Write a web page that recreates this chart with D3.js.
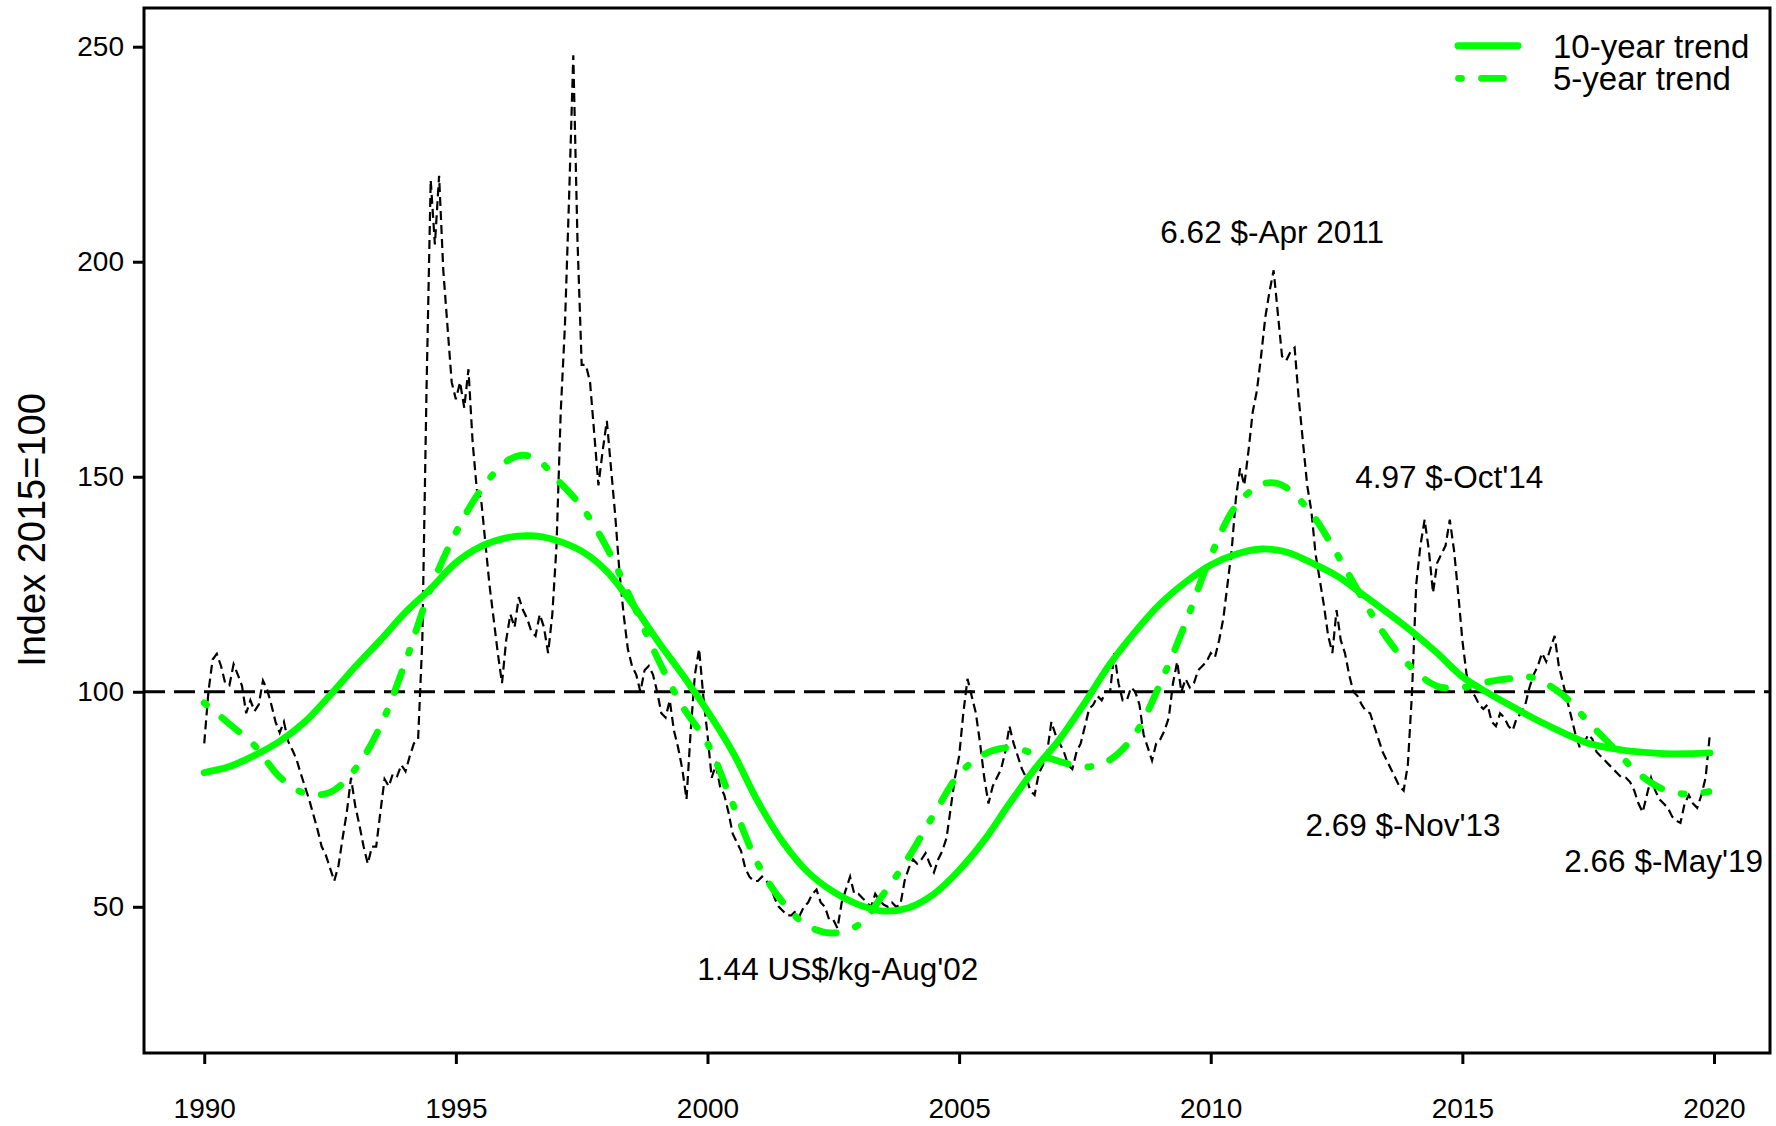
<!DOCTYPE html>
<html>
<head>
<meta charset="utf-8">
<script src="https://cdn.jsdelivr.net/npm/d3@7"></script>
<style>
	body { margin: 0; background: #ffffff; }
	svg { display: block; }
	text { font-family: "Liberation Sans", Arial, sans-serif; fill: #000000; }
</style>
</head>
<body>
<div></div>
<script>
// monthly price index, Jan 1990 .. Dec 2019 (2015=100)
var startYear = 1990;
var indexValues = [
	88, 100, 107.5, 108.8, 106, 102, 101.5, 106.4, 104, 101.4, 95, 98,
	95.5, 97, 102.6, 100.5, 97, 93, 90.5, 93, 88.5, 86.5, 84.3, 81,
	78, 75, 71.5, 68, 64, 62, 59, 56, 59.5, 66, 72, 80,
	73.5, 69, 64, 60, 64, 64, 72, 79.7, 78, 81, 80.4, 83,
	81.5, 85, 88, 89, 112, 170, 219, 204, 220, 198, 185, 172,
	168, 172, 166, 175, 158, 147, 145, 135, 125, 117, 109, 102,
	112, 118, 115, 122, 119, 117, 114, 113, 118, 115, 109, 118,
	134, 165, 185, 215, 248, 205, 176, 176, 172, 160, 148, 156,
	163, 152, 141, 128, 118, 110, 106, 104, 100, 105, 106, 104,
	100, 95, 94, 98, 91, 87, 82, 75, 91, 104, 110, 99,
	90, 80, 83, 78, 76, 72, 67, 65, 63, 59, 57, 56,
	56, 57, 56, 55, 52, 50, 49, 48, 48, 49, 48, 50,
	51, 53, 54, 51, 50, 47, 47, 45, 51, 54, 57, 53,
	53, 52, 51, 50, 53, 51.5, 50.5, 50, 51, 50, 50.5, 56,
	59, 61, 60, 61, 62.5, 60, 58, 61, 63, 66, 73, 80,
	85, 95, 103, 99, 95, 88, 80, 74, 78, 80, 82, 86,
	92, 88, 85, 82, 80, 77, 76, 81, 83, 86, 93, 90,
	88, 86, 83, 82, 86, 88, 92, 96, 97, 99, 98, 100,
	100, 109, 102, 98, 98, 101, 100, 97, 90, 87, 84, 88,
	89, 91, 94, 102, 107, 100, 103, 101, 102, 105, 106, 107,
	109, 108, 112, 117, 125, 133, 145, 152, 148, 156, 165, 170,
	178, 187, 193, 198, 188, 178, 177, 179, 180, 168, 158, 148,
	142, 132, 126, 120, 113, 109, 119, 112, 109, 104, 100, 99,
	97, 95.5, 95, 92, 89, 86, 84, 82, 80, 78, 77, 83,
	100, 125, 134, 140, 133, 123, 130, 132, 134, 140, 133, 123,
	112, 104, 100, 99, 97, 96, 97, 93, 92, 95, 94, 92,
	91, 94, 95, 97, 101, 104, 106, 109, 107, 110, 113, 106,
	102, 98, 94, 90, 87, 88, 90, 89, 86, 85, 84, 83,
	82, 81, 80, 80, 79, 77, 74, 72, 76, 80, 77, 75,
	74, 73, 71, 70, 69.5, 74, 76, 74, 73, 76, 80, 90
];

var trend10Years = [1990, 1990.5, 1991, 1991.5, 1992, 1992.5, 1993, 1993.5, 1994, 1994.5,
	1995, 1995.5, 1996, 1996.5, 1997, 1997.5, 1998, 1998.5, 1999, 1999.5,
	2000, 2000.5, 2001, 2001.5, 2002, 2002.5, 2003, 2003.5, 2004, 2004.5,
	2005, 2005.5, 2006, 2006.5, 2007, 2007.5, 2008, 2008.5, 2009, 2009.5,
	2010, 2010.5, 2011, 2011.5, 2012, 2012.5, 2013, 2013.5, 2014, 2014.5,
	2015, 2015.5, 2016, 2016.5, 2017, 2017.5, 2018, 2018.5, 2019, 2019.5, 2019.92];
var trend10Values = [81.2, 82.6, 85.2, 88.5, 93, 99.2, 105.8, 112, 118.5, 124,
	130, 133.8, 135.8, 136.3, 135.2, 132.7, 128, 120.5, 112, 104,
	95.5, 86, 74.5, 65, 58, 53.5, 50.5, 49, 49.8, 53,
	58.5, 65.5, 74, 82, 89, 97.5, 106.5, 114, 120.5, 125.5,
	129.5, 132, 133.2, 132.5, 130, 127, 122.8, 118.5, 114, 109,
	103.5, 99.8, 96.5, 93.3, 90.5, 88, 86.8, 86, 85.6, 85.6, 85.8];

// 5-year trend
var trend5Years = [1990, 1990.5, 1991, 1991.5, 1992, 1992.5, 1993, 1993.5, 1994, 1994.5,
	1995, 1995.5, 1996, 1996.3, 1996.6, 1997, 1997.5, 1998, 1998.5, 1999, 1999.5,
	2000, 2000.5, 2001, 2001.5, 2002, 2002.5, 2003, 2003.5, 2004, 2004.5,
	2005, 2005.5, 2006, 2006.5, 2007, 2007.5, 2008, 2008.5, 2009, 2009.5,
	2010, 2010.5, 2011, 2011.3, 2011.5, 2012, 2012.5, 2013, 2013.5, 2014, 2014.5,
	2015, 2015.5, 2016, 2016.4, 2017, 2017.5, 2018, 2018.5, 2019, 2019.5, 2019.9];
var trend5Values = [97.4, 92.5, 87.5, 80.2, 76.4, 76.6, 82, 92, 107, 124,
	137, 147, 153.5, 155, 154.2, 149.5, 143, 133.5, 121, 108, 96.7,
	88, 74, 60, 51, 45.5, 43.9, 45.8, 53, 61.6, 71.5,
	80.8, 85.5, 87, 85.6, 83.8, 82.5, 84.2, 90.2, 102, 116,
	131.5, 143.2, 148.2, 148.5, 147.5, 141.5, 132.2, 122, 112.5, 105.5, 101.3,
	101, 102.3, 103.1, 103.3, 99.2, 93, 87, 81, 77.3, 76.2, 76.8];

var xTicks = [1990, 1995, 2000, 2005, 2010, 2015, 2020];
var yTicks = [50, 100, 150, 200, 250];
var baseLevel = 100;

var noteLabels = ["6.62 $-Apr 2011", "4.97 $-Oct'14", "2.69 $-Nov'13", "2.66 $-May'19", "1.44 US$/kg-Aug'02"];
var noteYears = [2011.22, 2014.74, 2013.82, 2019.0, 2002.59];
var noteValues = [207, 150, 69, 60.7, 35.5];

var legendLabels = ["10-year trend", "5-year trend"];

var width = 1776, height = 1126;
var green = '#00ff00';
var dotDash = '3,20,22,20';

var svg = d3.select("body").select("div").append("svg")
	.attr("width", width)
	.attr("height", height);

var x = d3.scaleLinear().domain([1988.803, 2021.113]).range([144, 1770]);
var y = d3.scaleLinear().domain([16, 259]).range([1053, 8]);

var monthly = indexValues.map(function(v, i) {
	return { t: startYear + i / 12, v: v };
});
var t10 = trend10Years.map(function(t, i) { return { t: t, v: trend10Values[i] }; });
var t5 = trend5Years.map(function(t, i) { return { t: t, v: trend5Values[i] }; });

var rawLine = d3.line()
	.x(function(d) { return x(d.t); })
	.y(function(d) { return y(d.v); });
var smoothLine = d3.line()
	.curve(d3.curveCatmullRom.alpha(0.5))
	.x(function(d) { return x(d.t); })
	.y(function(d) { return y(d.v); });

var plot = svg.append('g');

plot.append('path')
	.datum(monthly)
	.attr('d', rawLine)
	.attr('fill', 'none')
	.attr('stroke', '#000')
	.attr('stroke-width', 2.2)
	.attr('stroke-dasharray', '9,5');

plot.append('line')
	.attr('x1', x.range()[0])
	.attr('x2', x.range()[1])
	.attr('y1', y(baseLevel))
	.attr('y2', y(baseLevel))
	.attr('stroke', '#000')
	.attr('stroke-width', 3)
	.attr('stroke-dasharray', '21,9');

plot.append('path')
	.datum(t10)
	.attr('d', smoothLine)
	.attr('fill', 'none')
	.attr('stroke', green)
	.attr('stroke-width', 6.8)
	.attr('stroke-linecap', 'round');

plot.append('path')
	.datum(t5)
	.attr('d', smoothLine)
	.attr('fill', 'none')
	.attr('stroke', green)
	.attr('stroke-width', 6.8)
	.attr('stroke-linecap', 'round')
	.attr('stroke-dasharray', dotDash);

// axes
var xAxis = svg.append('g')
	.attr('transform', 'translate(0,1053)')
	.call(d3.axisBottom(x).tickValues(xTicks).tickFormat(d3.format('d'))
		.tickSize(11).tickSizeOuter(0).tickPadding(34));
var yAxis = svg.append('g')
	.attr('transform', 'translate(144,0)')
	.call(d3.axisLeft(y).tickValues(yTicks).tickSize(11).tickSizeOuter(0).tickPadding(9));

[xAxis, yAxis].forEach(function(g) {
	g.select('.domain').remove();
	g.selectAll('line').attr('stroke', '#000').attr('stroke-width', 3);
	g.selectAll('text').style('font-size', '28px').style('font-family', '"Liberation Sans", Arial, sans-serif');
});

svg.append('rect')
	.attr('x', 144)
	.attr('y', 8)
	.attr('width', 1770 - 144)
	.attr('height', 1053 - 8)
	.attr('fill', 'none')
	.attr('stroke', '#000')
	.attr('stroke-width', 3);

svg.append('text')
	.attr('transform', 'translate(45,530) rotate(-90)')
	.attr('text-anchor', 'middle')
	.style('font-size', '38px')
	.text('Index 2015=100');

// price notes
svg.append('g').selectAll('text')
	.data(noteLabels)
	.enter()
	.append('text')
	.attr('x', function(d, i) { return x(noteYears[i]); })
	.attr('y', function(d, i) { return y(noteValues[i]); })
	.attr('dy', '0.36em')
	.attr('text-anchor', 'middle')
	.style('font-size', '31.5px')
	.text(function(d) { return d; });

// legend
var legend = svg.append('g');
legend.append('line')
	.attr('x1', 1458).attr('x2', 1518)
	.attr('y1', 45.7).attr('y2', 45.7)
	.attr('stroke', green).attr('stroke-width', 6.8).attr('stroke-linecap', 'round');
legend.append('line')
	.attr('x1', 1458.5).attr('x2', 1518)
	.attr('y1', 78.3).attr('y2', 78.3)
	.attr('stroke', green).attr('stroke-width', 6.8).attr('stroke-linecap', 'round')
	.attr('stroke-dasharray', dotDash);
legend.selectAll('text')
	.data(legendLabels)
	.enter()
	.append('text')
	.attr('x', 1553)
	.attr('y', function(d, i) { return 45.7 + i * 32.6; })
	.attr('dy', '0.36em')
	.style('font-size', '33px')
	.text(function(d) { return d; });
</script>
</body>
</html>
